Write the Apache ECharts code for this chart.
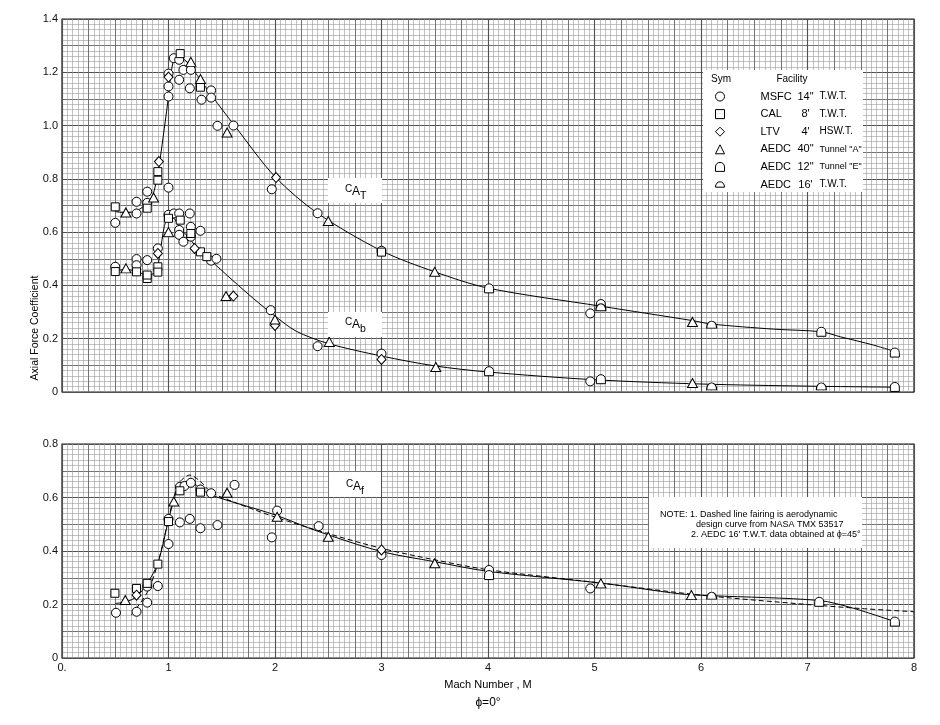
<!DOCTYPE html>
<html><head><meta charset="utf-8">
<script src="https://cdn.jsdelivr.net/npm/echarts@6/dist/echarts.min.js"></script>
<style>html,body{margin:0;padding:0;background:#fff}#c{width:940px;height:725px}</style>
</head><body><div id="c"></div>
<script>
// ---- tick labels ----
const xTickLabels = ['0.', '1', '2', '3', '4', '5', '6', '7', '8'];
const yTickLabelsTop = ['0', '0.2', '0.4', '0.6', '0.8', '1.0', '1.2', '1.4'];
const yTickLabelsBottom = ['0', '0.2', '0.4', '0.6', '0.8'];

// ---- facilities (legend) ----
const facNames = ['MSFC', 'CAL', 'LTV', 'AEDC', 'AEDC', 'AEDC'];
const facSizes = ['14"', "8'", "4'", '40"', '12"', "16'"];
const facTypes = ['T.W.T.', 'T.W.T.', 'HSW.T.', 'Tunnel "A"', 'Tunnel "E"', 'T.W.T.'];

// ---- C_AT data points [Mach, coefficient] ----
const msfcAT = [[0.5,0.635],[0.7,0.67],[0.7,0.714],[0.8,0.752],[0.8,0.71],[1.0,0.767],[1.0,1.109],[1.0,1.147],[1.0,1.195],[1.05,1.253],[1.1,1.247],[1.1,1.172],[1.14,1.209],[1.21,1.209],[1.2,1.14],[1.31,1.097],[1.4,1.132],[1.4,1.105],[1.46,0.999],[1.61,1.0],[1.97,0.761],[2.4,0.671],[3.0,0.53],[4.96,0.295]];
const calAT = [[0.5,0.695],[0.8,0.69],[0.9,0.827],[0.9,0.795],[1.11,1.27],[1.30,1.144],[3.0,0.525]];
const ltvAT = [[0.91,0.865],[1.0,1.182],[2.01,0.805]];
const aedcAAT = [[0.6,0.674],[0.86,0.73],[1.21,1.239],[1.30,1.175],[1.55,0.974],[2.5,0.642],[3.5,0.451],[5.92,0.263]];
const aedcEAT = [[4.01,0.389],[5.06,0.33],[7.13,0.226],[7.82,0.148]];
const aedc16AT = [[5.06,0.318],[6.1,0.253]];

// ---- C_Ab data points ----
const msfcAb = [[0.5,0.47],[0.7,0.499],[0.7,0.476],[0.8,0.495],[0.9,0.539],[1.0,0.665],[1.05,0.67],[1.1,0.67],[1.1,0.608],[1.1,0.59],[1.2,0.67],[1.14,0.564],[1.21,0.62],[1.21,0.583],[1.3,0.605],[1.4,0.493],[1.45,0.50],[1.96,0.307],[2.4,0.172],[3.0,0.144],[4.96,0.04]];
const calAb = [[0.5,0.452],[0.7,0.451],[0.8,0.426],[0.8,0.439],[0.9,0.47],[0.9,0.45],[1.0,0.652],[1.11,0.645],[1.21,0.595],[1.30,0.526],[1.36,0.508]];
const ltvAb = [[0.9,0.52],[1.245,0.539],[1.61,0.36],[2.0,0.25],[3.0,0.122]];
const aedcAAb = [[0.6,0.464],[1.0,0.60],[1.54,0.36],[2.0,0.272],[2.51,0.188],[3.51,0.094],[5.92,0.034]];
const aedcEAb = [[4.01,0.078],[5.06,0.048],[7.82,0.019]];
const aedc16Ab = [[6.1,0.021],[7.13,0.021]];

// ---- C_Af data points ----
const msfcAf = [[0.507,0.169],[0.7,0.173],[0.8,0.207],[0.8,0.267],[0.9,0.269],[1.0,0.426],[1.0,0.52],[1.107,0.64],[1.15,0.643],[1.21,0.655],[1.107,0.507],[1.2,0.52],[1.3,0.485],[1.3,0.63],[1.4,0.616],[1.46,0.497],[1.62,0.647],[1.97,0.451],[2.02,0.551],[2.41,0.493],[3.0,0.385],[4.01,0.329],[4.96,0.26]];
const calAf = [[0.497,0.242],[0.7,0.26],[0.8,0.279],[0.9,0.351],[1.0,0.51],[1.107,0.625],[1.30,0.62]];
const ltvAf = [[0.7,0.235],[3.0,0.404]];
const aedcAAf = [[0.594,0.217],[1.05,0.585],[1.55,0.618],[2.02,0.528],[2.5,0.453],[3.5,0.354],[5.06,0.279],[5.91,0.235]];
const aedcEAf = [[4.01,0.31],[7.11,0.21],[7.82,0.136]];
const aedc16Af = [[6.1,0.233]];

// ---- faired curves ----
const curveAT = [[0.5,0.677],[0.6,0.673],[0.7,0.68],[0.8,0.708],[0.85,0.735],[0.9,0.82],[0.92,0.87],[1.0,1.109],[1.02,1.184],[1.05,1.245],[1.1,1.26],[1.18,1.235],[1.3,1.172],[1.41,1.11],[1.62,1.0],[2.0,0.808],[2.4,0.671],[3.0,0.53],[3.5,0.451],[4.0,0.39],[5.06,0.322],[5.92,0.268],[6.1,0.255],[6.68,0.236],[7.13,0.226],[7.31,0.207],[7.62,0.176],[7.85,0.148]];
const curveAb = [[0.5,0.455],[0.6,0.46],[0.7,0.452],[0.8,0.44],[0.88,0.45],[0.92,0.52],[0.96,0.62],[1.0,0.655],[1.05,0.652],[1.1,0.62],[1.2,0.575],[1.3,0.525],[1.4,0.492],[1.6,0.42],[1.8,0.35],[2.0,0.285],[2.2,0.228],[2.5,0.182],[3.0,0.135],[3.5,0.098],[4.0,0.075],[5.0,0.046],[6.0,0.03],[7.0,0.022],[7.85,0.018]];
const curveAf = [[0.5,0.204],[0.6,0.21],[0.7,0.229],[0.8,0.279],[0.9,0.354],[1.0,0.516],[1.05,0.59],[1.1,0.645],[1.2,0.659],[1.3,0.634],[1.4,0.609],[2.0,0.535],[2.4,0.474],[3.0,0.398],[3.5,0.36],[4.0,0.324],[5.06,0.28],[5.8,0.24],[6.1,0.233],[7.11,0.215],[7.43,0.186],[7.82,0.136]];
const curveAfDesign = [[0.65,0.161],[0.8,0.245],[0.9,0.354],[1.0,0.52],[1.05,0.6],[1.1,0.655],[1.2,0.684],[1.3,0.66],[1.4,0.62],[1.6,0.585],[2.0,0.527],[2.5,0.465],[3.0,0.41],[3.5,0.367],[4.0,0.33],[5.0,0.283],[6.0,0.235],[7.0,0.2],[7.5,0.185],[8.0,0.173]];

const facSymbols = ['circle', 'rect', 'diamond', 'triangle',
  'path://M0,10 L0,5 C0,-1.7 10,-1.7 10,5 L10,10 Z',
  'path://M0,8 C0,0 10,0 10,8 Z'];
const facSizesPx = [9, 8, [9,10], [10,9], [9,9], [10,7]];
const topData = [msfcAT.concat(msfcAb), calAT.concat(calAb), ltvAT.concat(ltvAb), aedcAAT.concat(aedcAAb), aedcEAT.concat(aedcEAb), aedc16AT.concat(aedc16Ab)];
const botData = [msfcAf, calAf, ltvAf, aedcAAf, aedcEAf, aedc16Af];

const FONT = 'Liberation Sans';
const legendNames = facNames.map((n, i) => n + ' ' + facSizes[i] + ' ' + facTypes[i]);

const minorLine = {show: true, lineStyle: {color: '#9a9a9a', width: 0.6}};
const majorLine = {show: true, lineStyle: {color: '#1a1a1a', width: 1.1}};
const medLine = {show: true, lineStyle: {color: '#606060', width: 0.8}};

function xAx(g, withLabels) {
  return {type: 'value', gridIndex: g, min: 0, max: 8, interval: 1,
    axisLine: {show: false}, axisTick: {show: false},
    axisLabel: withLabels ? {show: true, margin: 4, fontFamily: FONT, fontSize: 11, color: '#111',
      formatter: v => xTickLabels[Math.round(v)]} : {show: false},
    splitLine: majorLine, minorTick: {show: false, splitNumber: 20}, minorSplitLine: minorLine};
}
function xMed(g) {
  return {type: 'value', gridIndex: g, min: 0, max: 8, interval: 0.25, show: true,
    axisLine: {show: false}, axisTick: {show: false}, axisLabel: {show: false}, splitLine: medLine};
}
function yAx(g, max, labels) {
  return {type: 'value', gridIndex: g, min: 0, max: max, interval: 0.2,
    axisLine: {show: false}, axisTick: {show: false},
    axisLabel: {show: true, margin: 4, fontFamily: FONT, fontSize: 11, color: '#111',
      formatter: v => labels[Math.round(v / 0.2)]},
    splitLine: majorLine, minorTick: {show: false, splitNumber: 10}, minorSplitLine: minorLine};
}
function yMed(g, max) {
  return {type: 'value', gridIndex: g, min: 0, max: max, interval: 0.1,
    axisLine: {show: false}, axisTick: {show: false}, axisLabel: {show: false}, splitLine: medLine};
}

const series = [];
facSymbols.forEach((sym, i) => {
  const common = {type: 'scatter', name: legendNames[i], symbol: sym, symbolSize: facSizesPx[i],
    itemStyle: {color: '#fff', borderColor: '#000', borderWidth: 1, opacity: 1}, z: 5};
  series.push(Object.assign({}, common, {xAxisIndex: 0, yAxisIndex: 0, data: topData[i]}));
  series.push(Object.assign({}, common, {xAxisIndex: 1, yAxisIndex: 1, data: botData[i]}));
});
const lineCommon = {type: 'line', showSymbol: false, symbol: 'none', smooth: 0.3,
  lineStyle: {color: '#000', width: 1}, z: 4, silent: true};
series.push(Object.assign({}, lineCommon, {name: 'CAT', xAxisIndex: 0, yAxisIndex: 0, data: curveAT}));
series.push(Object.assign({}, lineCommon, {name: 'CAb', xAxisIndex: 0, yAxisIndex: 0, data: curveAb}));
series.push(Object.assign({}, lineCommon, {name: 'CAf', xAxisIndex: 1, yAxisIndex: 1, data: curveAf}));
series.push(Object.assign({}, lineCommon, {name: 'CAfDesign', xAxisIndex: 1, yAxisIndex: 1, data: curveAfDesign,
  lineStyle: {color: '#000', width: 1, type: [5, 3]}}));

function txt(x, y, s, size, align) {
  return {type: 'text', x: x, y: y, z: 20,
    style: {text: s, fontFamily: FONT, fontSize: size, fill: '#000', align: align || 'left', verticalAlign: 'middle'}};
}
function box(x, y, w, h) {
  return {type: 'rect', z: 15, shape: {x: x, y: y, width: w, height: h}, style: {fill: '#fff', stroke: null}};
}
function coefLabel(x0, y0, sub2) {
  return [
    txt(x0, y0, 'C', 10),
    txt(x0 + 7, y0 + 3, 'A', 12),
    txt(x0 + 15, y0 + 7.5, sub2, 10.5)
  ];
}

const graphic = [
  box(703, 70, 160, 122),
  box(649, 497, 213, 51),
  box(328, 178, 54, 25),
  box(328, 312, 54, 25),
  box(329, 472, 52, 25),
  txt(721, 79, 'Sym', 10, 'center'),
  txt(792, 79, 'Facility', 10, 'center'),
  txt(660, 515, 'NOTE: 1. Dashed line fairing is aerodynamic', 9),
  txt(696, 525, 'design curve from NASA TMX 53517', 9),
  txt(691, 535, "2. AEDC 16' T.W.T. data obtained at \u03d5=45\u00b0", 9),
  {type: 'text', x: 35, y: 328, rotation: Math.PI / 2, z: 20,
    style: {text: 'Axial Force Coefficient', fontFamily: FONT, fontSize: 10.5, fill: '#000', align: 'center', verticalAlign: 'middle'}},
  {type: 'text', x: 488, y: 703, z: 20,
    style: {text: '\u03d5=0\u00b0', fontFamily: FONT, fontSize: 12, fill: '#000', align: 'center', verticalAlign: 'middle'}}
].concat(coefLabel(345, 189, 'T'), coefLabel(345, 322, 'b'), coefLabel(346, 484, 'f'));

const option = {
  backgroundColor: '#fff',
  animation: false,
  grid: [
    {left: 62, top: 19, width: 852, height: 373, show: true, borderColor: '#1a1a1a', borderWidth: 1.2, backgroundColor: 'transparent'},
    {left: 62, top: 444, width: 852, height: 214, show: true, borderColor: '#1a1a1a', borderWidth: 1.2, backgroundColor: 'transparent'}
  ],
  xAxis: [xAx(0, false),
    Object.assign(xAx(1, true), {name: 'Mach Number , M', nameLocation: 'middle', nameGap: 21,
      nameTextStyle: {fontFamily: FONT, fontSize: 11, color: '#000'}}),
    xMed(0), xMed(1)],
  yAxis: [yAx(0, 1.4, yTickLabelsTop), yAx(1, 0.8, yTickLabelsBottom), yMed(0, 1.4), yMed(1, 0.8)],
  legend: {
    data: legendNames, orient: 'vertical', left: 715, top: 90.5, z: 30, padding: 0,
    itemWidth: 9, itemHeight: 9, itemGap: 5.6, selectedMode: false,
    itemStyle: {color: '#fff', borderColor: '#000', borderWidth: 1},
    formatter: name => {
      const i = legendNames.indexOf(name);
      const t = facTypes[i].indexOf('Tunnel') === 0 ? 'd' : 'c';
      return '{s|}{a|' + facNames[i] + '}{b|' + facSizes[i] + '}{' + t + '|' + facTypes[i] + '}';
    },
    textStyle: {fontFamily: FONT, fontSize: 11, color: '#000', lineHeight: 12,
      rich: {
        s: {width: 31, lineHeight: 12},
        a: {width: 31, fontSize: 11, fontFamily: FONT, lineHeight: 12},
        b: {width: 28, align: 'center', fontSize: 11, fontFamily: FONT, lineHeight: 12},
        c: {fontSize: 10, fontFamily: FONT, lineHeight: 12},
        d: {fontSize: 9, fontFamily: FONT, lineHeight: 12}
      }}
  },
  graphic: graphic,
  series: series
};
const chart = echarts.init(document.getElementById('c'), null, {renderer: 'canvas'});
chart.setOption(option);
</script></body></html>
